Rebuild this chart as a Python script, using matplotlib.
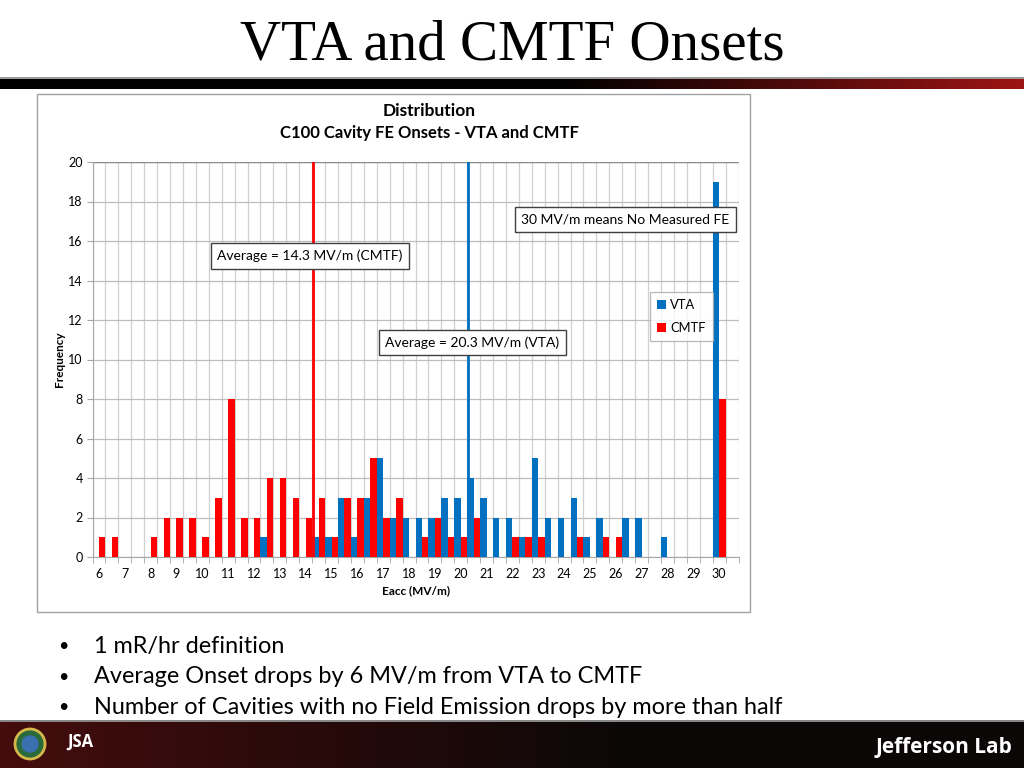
import numpy as np
import matplotlib
matplotlib.use("Agg")
import matplotlib.pyplot as plt
from matplotlib.patches import Rectangle

# ---------------- data ----------------
eacc = [6, 6.5, 7, 7.5, 8, 8.5, 9, 9.5, 10, 10.5, 11, 11.5, 12, 12.5, 13, 13.5,
        14, 14.5, 15, 15.5, 16, 16.5, 17, 17.5, 18, 18.5, 19, 19.5, 20, 20.5,
        21, 21.5, 22, 22.5, 23, 23.5, 24, 24.5, 25, 25.5, 26, 26.5, 27, 27.5,
        28, 28.5, 29, 29.5, 30, 30.5]
vta = [0, 0, 0, 0, 0, 0, 0, 0, 0, 0, 0, 0, 0, 1, 0, 0,
       0, 1, 1, 3, 1, 3, 5, 2, 2, 2, 2, 3, 3, 4,
       3, 2, 2, 1, 5, 2, 2, 3, 1, 2, 0, 2, 2, 0,
       1, 0, 0, 0, 19, 0]
cmtf = [1, 1, 0, 0, 1, 2, 2, 2, 1, 3, 8, 2, 2, 4, 4, 3,
        2, 3, 1, 3, 3, 5, 2, 3, 0, 1, 2, 1, 1, 2,
        0, 0, 1, 1, 1, 0, 0, 1, 0, 1, 1, 0, 0, 0,
        0, 0, 0, 0, 8, 0]
tick_labels = [str(int(v)) if float(v).is_integer() else "" for v in eacc]
avg_cmtf = 14.3
avg_vta = 20.3
bullets = ["1 mR/hr definition",
           "Average Onset drops by 6 MV/m from VTA to CMTF",
           "Number of Cavities with no Field Emission drops by more than half"]

BLUE = "#0070C0"
RED = "#FF0000"
W, H = 1024, 768
FONT = "Lato"

fig = plt.figure(figsize=(W / 100, H / 100), dpi=100)
fig.patch.set_facecolor("white")

# background / slide decoration axes in pixel coordinates
bg = fig.add_axes([0, 0, 1, 1])
bg.set_xlim(0, W)
bg.set_ylim(H, 0)
bg.axis("off")

# title
bg.text(512, 45, "VTA and CMTF Onsets", ha="center", va="center",
        fontsize=41, family="Liberation Serif", color="black")

# top bar with gradient to red on the right
grad = np.linspace(0, 1, 512)
cols = np.zeros((1, 512, 3))
t = np.clip((grad - 0.55) / 0.45, 0, 1)
cols[0, :, 0] = 0.62 * t
cols[0, :, 1] = 0.08 * t
cols[0, :, 2] = 0.08 * t
bg.imshow(cols, extent=[0, W, 89, 79], aspect="auto", zorder=1)
bg.add_patch(Rectangle((0, 77), W, 2, color="#9a9a9a", lw=0, zorder=1))

# footer band
fcols = np.zeros((1, 512, 3))
ft = np.clip(1 - grad / 0.6, 0, 1)
fcols[0, :, 0] = 0.05 + 0.22 * ft
fcols[0, :, 1] = 0.03 + 0.02 * ft
fcols[0, :, 2] = 0.03 + 0.02 * ft
bg.imshow(fcols, extent=[0, W, H, 722], aspect="auto", zorder=1)
bg.add_patch(Rectangle((0, 720), W, 2, color="#888888", lw=0, zorder=2))
bg.text(1012, 747, "Jefferson Lab", ha="right", va="center", fontsize=15,
        family="Open Sans", color="white", fontweight="bold", zorder=3)
bg.add_patch(plt.Circle((30, 744), 15, color="#2a6a3a", ec="#d4b84a", lw=2, zorder=3))
bg.add_patch(plt.Circle((30, 744), 8, color="#3a70b0", zorder=4))
bg.text(80, 742, "JSA", ha="center", va="center", fontsize=12, color="white",
        fontweight="bold", family="Open Sans", zorder=3)

# bullets
for k, line in enumerate(bullets):
    y = 646 + 30.5 * k
    bg.text(63, y, "\u2022", ha="center", va="center", fontsize=13, family=FONT)
    bg.text(94, y, line, ha="left", va="center", fontsize=16.95, family=FONT)

# chart frame
bg.add_patch(Rectangle((37, 94), 713, 518, fill=True, fc="white", ec="#a0a0a0",
                       lw=1.0, zorder=1))
bg.text(429, 111, "Distribution", ha="center", va="center", fontsize=12.5,
        fontweight="bold", family=FONT, zorder=3)
bg.text(429, 133, "C100 Cavity FE Onsets - VTA and CMTF", ha="center",
        va="center", fontsize=12, fontweight="bold", family=FONT, zorder=3)

# ---------------- chart ----------------
left, right, top, bottom = 92.5, 738.5, 162, 557
ax = fig.add_axes([left / W, 1 - bottom / H, (right - left) / W, (bottom - top) / H])
ax.set_zorder(5)
ax.set_facecolor("white")
n = len(eacc)
idx = np.arange(n)
ax.bar(idx - 0.25, vta, width=0.5, color=BLUE, label="VTA", zorder=3)
ax.bar(idx + 0.25, cmtf, width=0.5, color=RED, label="CMTF", zorder=3)

ax.set_xlim(-0.5, n - 0.5)
ax.set_ylim(0, 20)
ax.set_yticks(np.arange(0, 21, 2))
ax.set_xticks(idx[::2])
ax.set_xticklabels(tick_labels[::2])
ax.set_xticks(np.arange(-0.5, n, 1), minor=True)
ax.tick_params(axis="x", which="major", length=0, labelsize=9, pad=8)
ax.tick_params(axis="x", which="minor", length=4, color="#a6a6a6", direction="out")
ax.tick_params(axis="y", length=4, color="#a6a6a6", labelsize=9, pad=3)
for lab in ax.get_xticklabels() + ax.get_yticklabels():
    lab.set_family(FONT)
ax.grid(axis="x", which="minor", color="#d0d0d0", lw=0.9, zorder=0)
ax.grid(axis="y", which="major", color="#bdbdbd", lw=0.9, zorder=0)
ax.set_axisbelow(True)
for s in ["top", "right"]:
    ax.spines[s].set_visible(False)
ax.spines["left"].set_color("#a6a6a6")
ax.spines["bottom"].set_color("#a6a6a6")
ax.axhline(20, color="#8c8c8c", lw=1.0, zorder=1)

ax.set_ylabel("Frequency", fontsize=8.5, fontweight="bold", family=FONT, labelpad=2)
ax.set_xlabel("Eacc (MV/m)", fontsize=8.5, fontweight="bold", family=FONT, labelpad=4)

def to_cat(v):
    return (v - eacc[0]) / (eacc[1] - eacc[0])

ax.axvline(to_cat(avg_cmtf), color=RED, lw=2, zorder=4)
ax.axvline(to_cat(avg_vta), color=BLUE, lw=2, zorder=4)

box = dict(boxstyle="square,pad=0.45", fc="white", ec="#404040", lw=1.0)
ax.text(16.33, 15.24, "Average = 14.3 MV/m (CMTF)", ha="center", va="center",
        fontsize=10, family=FONT, bbox=box, zorder=6)
ax.text(28.9, 10.84, "Average = 20.3 MV/m (VTA)", ha="center", va="center",
        fontsize=10, family=FONT, bbox=box, zorder=6)
ax.text(40.75, 17.1, "30 MV/m means No Measured FE", ha="center", va="center",
        fontsize=10, family=FONT, bbox=box, zorder=6)

leg = ax.legend(loc="upper left",
                bbox_to_anchor=((650 - left) / (right - left), 1 - (292 - top) / (bottom - top)),
                borderaxespad=0, frameon=True, fancybox=False, edgecolor="#a6a6a6",
                handlelength=0.65, handleheight=0.65, handletextpad=0.35,
                borderpad=0.55, labelspacing=0.85, prop={"family": FONT, "size": 9.3})
leg.get_frame().set_linewidth(0.9)
leg.set_zorder(7)

fig.savefig("out.png", dpi=100)
